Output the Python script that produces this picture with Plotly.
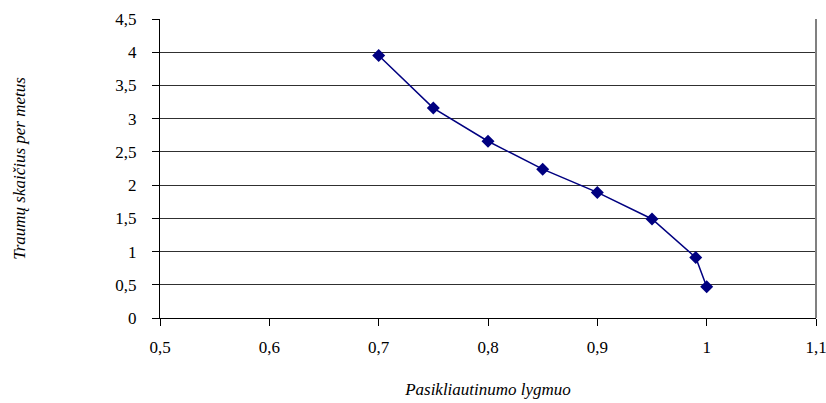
import plotly.graph_objects as go

# Data
confidence_level = [0.70, 0.75, 0.80, 0.85, 0.90, 0.95, 0.99, 1.00]
injuries_per_year = [3.95, 3.16, 2.66, 2.24, 1.89, 1.49, 0.91, 0.47]

x_tick_vals = [0.5, 0.6, 0.7, 0.8, 0.9, 1.0, 1.1]
x_tick_text = ["0,5", "0,6", "0,7", "0,8", "0,9", "1", "1,1"]
y_tick_vals = [0, 0.5, 1, 1.5, 2, 2.5, 3, 3.5, 4, 4.5]
y_tick_text = ["0", "0,5", "1", "1,5", "2", "2,5", "3", "3,5", "4", "4,5"]

x_title = "Pasikliautinumo lygmuo"
y_title = "Traumų skaičius per metus"

serif = "Liberation Serif"

fig = go.Figure()
fig.add_trace(go.Scatter(
    x=confidence_level, y=injuries_per_year,
    mode="lines+markers",
    line=dict(color="#000080", width=1.5),
    marker=dict(symbol="diamond", size=10, color="#000080"),
    showlegend=False,
))

fig.update_layout(
    template="none",
    width=826, height=403,
    margin=dict(l=160, r=10, t=19, b=85, autoexpand=False),
    paper_bgcolor="white", plot_bgcolor="white",
    font=dict(family=serif, size=17, color="black"),
)
fig.update_xaxes(
    range=[0.5, 1.1], tickvals=x_tick_vals, ticktext=x_tick_text,
    showgrid=False, zeroline=False, automargin=False,
    showline=True, linecolor="black", linewidth=1,
    ticks="outside", ticklen=7, tickcolor="black",
    ticklabelstandoff=7,
    ticklabeloverflow="allow",
    tickfont=dict(family=serif, size=17, color="black"),
    title=dict(text=f"<i>{x_title}</i>", standoff=26, font=dict(family=serif, size=17, color="black")),
)
fig.update_yaxes(
    range=[0, 4.5], tickvals=y_tick_vals, ticktext=y_tick_text,
    showgrid=True, gridcolor="#303030", gridwidth=1, zeroline=False, automargin=False,
    showline=True, linecolor="black", linewidth=1,
    ticks="outside", ticklen=7, tickcolor="black",
    ticklabelstandoff=12,
    tickfont=dict(family=serif, size=17, color="black"),
    title=dict(text=f"<i>{y_title}</i>", standoff=85, font=dict(family=serif, size=17, color="black")),
)
# right border of the plot area
fig.add_shape(type="line", xref="paper", yref="paper", x0=1, x1=1, y0=0, y1=1,
              line=dict(color="#808080", width=2))

fig.write_html("out.html")
